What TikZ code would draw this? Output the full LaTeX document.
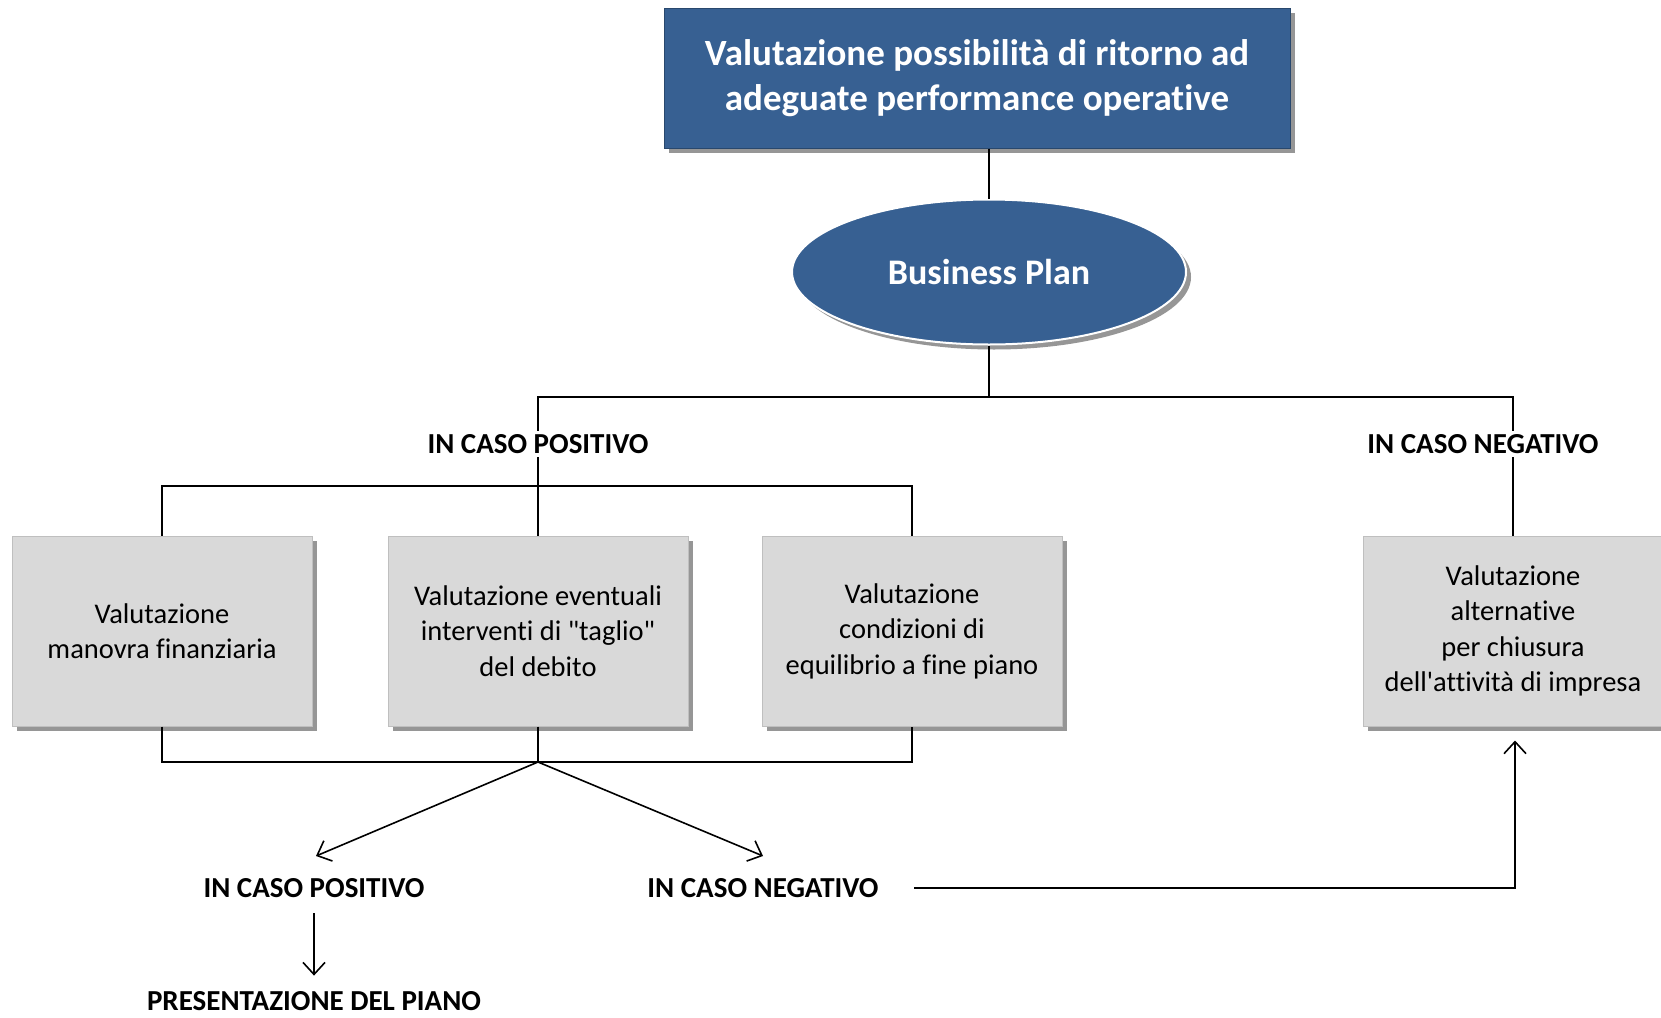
\documentclass[tikz,border=0pt]{standalone}
\usepackage{fontspec}
\setmainfont{Carlito}[Ligatures=NoCommon]
\usetikzlibrary{shapes.geometric,shadows,arrows.meta}
\definecolor{bpblue}{RGB}{55,96,146}
\definecolor{boxgray}{RGB}{217,217,217}

\begin{document}
\begin{tikzpicture}[x=1pt,y=-1pt,line width=1.6pt,
    shad/.style={drop shadow={shadow xshift=5pt,shadow yshift=-5pt,opacity=0.55,fill=black!75}},
    titlebox/.style={draw=bpblue!75!black,line width=1pt,fill=bpblue,text=white,shad,
      minimum width=626,minimum height=140,align=center,
      font=\fontsize{37}{45}\selectfont\bfseries},
    planell/.style={ellipse,draw=white,line width=2pt,fill=bpblue,text=white,shad,
      minimum width=394,minimum height=145,inner sep=0pt,
      font=\fontsize{36}{40}\selectfont\bfseries},
    evalbox/.style={draw=black!25,line width=1pt,fill=boxgray,shad,
      minimum width=300,minimum height=190,align=center,
      font=\fontsize{28.5}{35.5}\selectfont},
    caso/.style={font=\fontsize{29}{32}\selectfont\bfseries,inner sep=3pt},
    arr/.style={-{Straight Barb[length=12pt,width=22pt]}}]
    \useasboundingbox (0,0) rectangle (1661,1017);

    \node[titlebox] (title) at (977,78) {Valutazione possibilità di ritorno ad\\adeguate performance operative};
    \node[planell] (bp) at (989,272) {Business Plan};

    \node[evalbox] (box1) at (162,631) {Valutazione\\manovra finanziaria};
    \node[evalbox] (box2) at (538,631) {Valutazione eventuali\\interventi di \textquotedbl taglio\textquotedbl\\del debito};
    \node[evalbox] (box3) at (912,631) {Valutazione\\condizioni di\\equilibrio a fine piano};
    \node[evalbox] (box4) at (1513,631) {Valutazione\\alternative\\per chiusura\\dell\textquotesingle attività di impresa};

    \node[caso] (lpos) at (538,444) {IN CASO POSITIVO};
    \node[caso] (lneg) at (1483,444) {IN CASO NEGATIVO};
    \node[caso] (lpos2) at (314,888) {IN CASO POSITIVO};
    \node[caso] (lneg2) at (763,888) {IN CASO NEGATIVO};
    \node[caso,inner sep=1pt] (lpres) at (314,1001) {PRESENTAZIONE DEL PIANO};

    \coordinate (j1) at (989,397);
    \coordinate (b1) at (538,486);
    \coordinate (b2) at (538,762);
    \coordinate (t1) at (316,856);
    \coordinate (t2) at (763,856);

    \draw (bp.north |- title.south) -- (bp.north);
    \draw (bp.south) -- (j1);
    \draw (lpos.north) |- (j1) -| (lneg.north -| box4.north);
    \draw (lneg.south -| box4.north) -- (box4.north);
    \draw (lpos.south) -- (box2.north);
    \draw (box1.north) |- (b1) -| (box3.north);
    \draw (box1.south) |- (b2) -| (box3.south);
    \draw (box2.south) -- (b2);
    \draw[arr] (b2) -- (t1);
    \draw[arr] (b2) -- (t2);
    \draw[arr,shorten <=12pt,shorten >=14pt] (lpos2.south) -- (lpres.north);
    \draw[arr] ([xshift=32pt]lneg2.east) -| ([xshift=2pt,yshift=-14pt]box4.south);
\end{tikzpicture}
\end{document}
